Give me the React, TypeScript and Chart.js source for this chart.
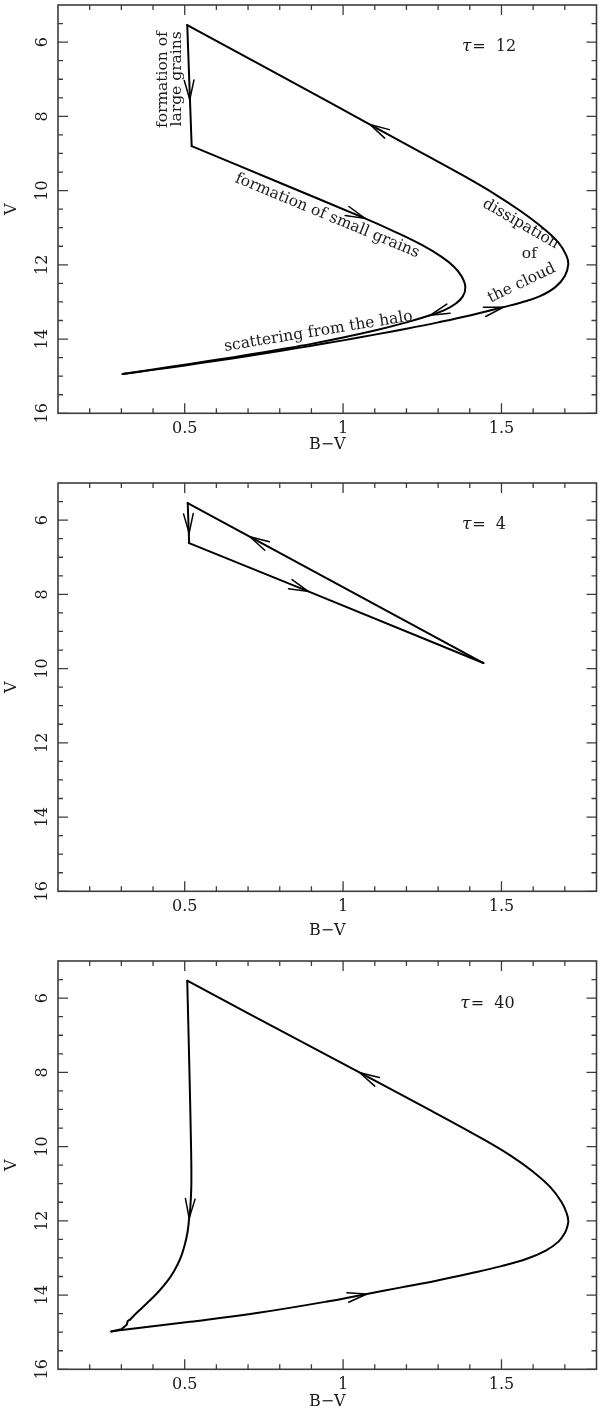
import React, { useEffect, useRef } from "react";
import { Chart, registerables } from "chart.js";

Chart.register(...registerables);

// ---------- axes ----------
const X_MIN = 0.1;
const X_MAX = 1.8;
const Y_MIN = 5;
const Y_MAX = 16;
const xMajorTicks = [0.5, 1, 1.5];
const xTickLabels = ["0.5", "1", "1.5"];
const xMinorTicks = [0.2, 0.3, 0.4, 0.6, 0.7, 0.8, 0.9, 1.1, 1.2, 1.3, 1.4, 1.6, 1.7];
const yMajorTicks = [6, 8, 10, 12, 14, 16];
const yTickLabels = ["6", "8", "10", "12", "14", "16"];
const yMinorTicks = [5.5, 6.5, 7, 7.5, 8.5, 9, 9.5, 10.5, 11, 11.5, 12.5, 13, 13.5, 14.5, 15, 15.5];
const xTitle = "B\u2212V";
const yTitle = "V";

// ---------- panel 1 : tau = 12 ----------
const p1VertX = [0.508, 0.522];
const p1VertY = [5.54, 8.8];
const p1InnerX = [0.522, 0.8, 1.069, 1.169, 1.25, 1.31, 1.35, 1.375, 1.386, 1.378, 1.355, 1.32, 1.275, 1.2, 1.1, 1.0, 0.9, 0.8, 0.7, 0.6, 0.5, 0.4, 0.304];
const p1InnerY = [8.8, 9.79, 10.75, 11.13, 11.47, 11.78, 12.05, 12.32, 12.6, 12.85, 13.05, 13.22, 13.36, 13.55, 13.77, 13.96, 14.13, 14.28, 14.425, 14.56, 14.69, 14.82, 14.94];
const p1OuterX = [0.304, 0.4, 0.5, 0.6, 0.7, 0.8, 0.9, 1.0, 1.1, 1.2, 1.3, 1.4, 1.506, 1.56, 1.62, 1.67, 1.7, 1.711, 1.705, 1.68, 1.63, 1.56, 1.48, 1.38, 1.25, 1.117, 0.959, 0.75, 0.508];
const p1OuterY = [14.94, 14.83, 14.71, 14.585, 14.455, 14.32, 14.18, 14.035, 13.88, 13.72, 13.55, 13.365, 13.14, 13.02, 12.85, 12.6, 12.3, 11.98, 11.75, 11.4, 11.0, 10.55, 10.1, 9.6, 8.99, 8.37, 7.63, 6.66, 5.54];
const p1ArrowTipX = [0.516, 1.069, 1.275, 1.506, 1.085];
const p1ArrowTipY = [7.55, 10.75, 13.36, 13.14, 8.22];
const p1ArrowTailX = [0.513, 0.9, 1.33, 1.4, 1.2];
const p1ArrowTailY = [6.8, 10.15, 13.19, 13.365, 8.76];
const p1Labels = ["formation of", "large grains", "formation of small grains", "scattering from the halo", "dissipation", "of", "the cloud"];
const p1LabelX = [0.432, 0.476, 0.95, 0.922, 1.561, 1.588, 1.564];
const p1LabelY = [7.01, 6.99, 10.68, 13.8, 10.9, 11.71, 12.5];
const p1LabelAngle = [-90, -90, 22.5, -9.3, 30, 0, -25.4];

// ---------- panel 2 : tau = 4 ----------
const p2VertX = [0.5095, 0.514];
const p2VertY = [5.54, 6.62];
const p2LowerX = [0.514, 0.89, 1.443];
const p2LowerY = [6.62, 7.92, 9.85];
const p2UpperX = [1.443, 0.5095];
const p2UpperY = [9.85, 5.54];
const p2ArrowTipX = [0.514, 0.89, 0.706];
const p2ArrowTipY = [6.35, 7.92, 6.45];
const p2ArrowTailX = [0.511, 0.75, 0.85];
const p2ArrowTailY = [5.7, 7.44, 7.11];

// ---------- panel 3 : tau = 40 ----------
const p3LeftX = [0.508, 0.515, 0.52, 0.521, 0.518, 0.514, 0.509, 0.5, 0.487, 0.468, 0.444, 0.415, 0.383, 0.352, 0.326];
const p3LeftY = [5.53, 8.0, 10.0, 11.0, 11.6, 11.93, 12.3, 12.65, 13.0, 13.33, 13.64, 13.93, 14.2, 14.45, 14.67];
const p3KinkX = [0.326, 0.32, 0.317, 0.3, 0.268];
const p3KinkY = [14.67, 14.7, 14.8, 14.92, 14.98];
const p3LoopX = [0.268, 0.295, 0.517, 0.738, 0.959, 1.075, 1.18, 1.291, 1.4, 1.5, 1.58, 1.64, 1.68, 1.7, 1.708, 1.711, 1.706, 1.69, 1.655, 1.6, 1.53, 1.442, 1.263, 1.053, 0.705, 0.508];
const p3LoopY = [14.98, 14.95, 14.72, 14.47, 14.16, 13.97, 13.8, 13.62, 13.42, 13.22, 13.02, 12.8, 12.56, 12.33, 12.15, 12.0, 11.8, 11.5, 11.1, 10.68, 10.25, 9.8, 8.965, 8.01, 6.43, 5.53];
const p3ArrowTipX = [0.514, 1.075, 1.053];
const p3ArrowTipY = [11.93, 13.97, 8.01];
const p3ArrowTailX = [0.519, 0.95, 1.17];
const p3ArrowTailY = [11.2, 14.17, 8.54];

// ---------- tau labels ----------
const tauValues = ["12", "4", "40"];
const tauX = [1.375, 1.375, 1.37];
const tauY = [6.12, 6.12, 6.15];

type Seg = { x: number[]; y: number[]; tension: number };
type Panel = {
  segs: Seg[];
  arrows: { tx: number[]; ty: number[]; fx: number[]; fy: number[] };
  labels: { text: string[]; x: number[]; y: number[]; angle: number[] };
  tau: string;
  tauX: number;
  tauY: number;
  xTitleOffset: number;
};

const panels: Panel[] = [
  {
    segs: [
      { x: p1VertX, y: p1VertY, tension: 0 },
      { x: p1InnerX, y: p1InnerY, tension: 0.4 },
      { x: p1OuterX, y: p1OuterY, tension: 0.4 },
    ],
    arrows: { tx: p1ArrowTipX, ty: p1ArrowTipY, fx: p1ArrowTailX, fy: p1ArrowTailY },
    labels: { text: p1Labels, x: p1LabelX, y: p1LabelY, angle: p1LabelAngle },
    tau: tauValues[0],
    tauX: tauX[0],
    tauY: tauY[0],
    xTitleOffset: 32,
  },
  {
    segs: [
      { x: p2VertX, y: p2VertY, tension: 0 },
      { x: p2LowerX, y: p2LowerY, tension: 0 },
      { x: p2UpperX, y: p2UpperY, tension: 0 },
    ],
    arrows: { tx: p2ArrowTipX, ty: p2ArrowTipY, fx: p2ArrowTailX, fy: p2ArrowTailY },
    labels: { text: [], x: [], y: [], angle: [] },
    tau: tauValues[1],
    tauX: tauX[1],
    tauY: tauY[1],
    xTitleOffset: 40,
  },
  {
    segs: [
      { x: p3LeftX, y: p3LeftY, tension: 0.4 },
      { x: p3KinkX, y: p3KinkY, tension: 0 },
      { x: p3LoopX, y: p3LoopY, tension: 0.4 },
    ],
    arrows: { tx: p3ArrowTipX, ty: p3ArrowTipY, fx: p3ArrowTailX, fy: p3ArrowTailY },
    labels: { text: [], x: [], y: [], angle: [] },
    tau: tauValues[2],
    tauX: tauX[2],
    tauY: tauY[2],
    xTitleOffset: 33,
  },
];

const SERIF = '"DejaVu Serif", "Liberation Serif", serif';
const MAJOR = 10;
const MINOR = 5;

const pgPlugin = {
  id: "pgframe",
  afterDatasetsDraw(chart: any, _args: any, opts: any) {
    const panel: Panel = opts.panel;
    const { ctx, chartArea: a } = chart;
    const xs = chart.scales.x;
    const ys = chart.scales.y;
    ctx.save();

    // frame
    ctx.strokeStyle = "#3c3c3c";
    ctx.lineWidth = 1.6;
    ctx.strokeRect(a.left, a.top, a.right - a.left, a.bottom - a.top);

    // ticks on four sides
    ctx.lineWidth = 1.3;
    ctx.beginPath();
    const xt = (v: number, len: number) => {
      const px = xs.getPixelForValue(v);
      ctx.moveTo(px, a.bottom);
      ctx.lineTo(px, a.bottom - len);
      ctx.moveTo(px, a.top);
      ctx.lineTo(px, a.top + len);
    };
    const yt = (v: number, len: number) => {
      const py = ys.getPixelForValue(v);
      ctx.moveTo(a.left, py);
      ctx.lineTo(a.left + len, py);
      ctx.moveTo(a.right, py);
      ctx.lineTo(a.right - len, py);
    };
    xMajorTicks.forEach((v) => xt(v, MAJOR));
    xMinorTicks.forEach((v) => xt(v, MINOR));
    yMajorTicks.forEach((v) => yt(v, MAJOR));
    yMinorTicks.forEach((v) => yt(v, MINOR));
    ctx.stroke();

    // tick labels
    ctx.fillStyle = "#1a1a1a";
    ctx.font = `16px ${SERIF}`;
    ctx.textAlign = "center";
    ctx.textBaseline = "middle";
    xMajorTicks.forEach((v, i) => {
      ctx.fillText(xTickLabels[i], xs.getPixelForValue(v), a.bottom + 16);
    });
    yMajorTicks.forEach((v, i) => {
      ctx.save();
      ctx.translate(a.left - 15, ys.getPixelForValue(v));
      ctx.rotate(-Math.PI / 2);
      ctx.fillText(yTickLabels[i], 0, 0);
      ctx.restore();
    });

    // axis titles
    ctx.fillText(xTitle, (a.left + a.right) / 2, a.bottom + panel.xTitleOffset);
    ctx.save();
    ctx.translate(12, (a.top + a.bottom) / 2);
    ctx.rotate(-Math.PI / 2);
    ctx.fillText(yTitle, 0, 0);
    ctx.restore();

    // tau label
    ctx.textAlign = "left";
    const tx = xs.getPixelForValue(panel.tauX);
    const ty = ys.getPixelForValue(panel.tauY);
    ctx.font = `italic 17px ${SERIF}`;
    ctx.fillText("\u03c4", tx, ty);
    const w = ctx.measureText("\u03c4").width;
    ctx.font = `16px ${SERIF}`;
    ctx.fillText("=  " + panel.tau, tx + w + 1, ty);

    // annotations
    ctx.textAlign = "center";
    ctx.font = `15.5px ${SERIF}`;
    panel.labels.text.forEach((t, i) => {
      ctx.save();
      ctx.translate(xs.getPixelForValue(panel.labels.x[i]), ys.getPixelForValue(panel.labels.y[i]));
      ctx.rotate((panel.labels.angle[i] * Math.PI) / 180);
      ctx.fillText(t, 0, 0);
      ctx.restore();
    });

    // arrow heads
    ctx.strokeStyle = "#000";
    ctx.lineWidth = 1.5;
    ctx.lineCap = "round";
    const L = 20;
    const half = (14 * Math.PI) / 180;
    panel.arrows.tx.forEach((_, i) => {
      const px = xs.getPixelForValue(panel.arrows.tx[i]);
      const py = ys.getPixelForValue(panel.arrows.ty[i]);
      const fx = xs.getPixelForValue(panel.arrows.fx[i]);
      const fy = ys.getPixelForValue(panel.arrows.fy[i]);
      const ang = Math.atan2(py - fy, px - fx);
      ctx.beginPath();
      ctx.moveTo(px - L * Math.cos(ang - half), py - L * Math.sin(ang - half));
      ctx.lineTo(px, py);
      ctx.lineTo(px - L * Math.cos(ang + half), py - L * Math.sin(ang + half));
      ctx.stroke();
    });

    ctx.restore();
  },
};

function PanelChart({ panel, top }: { panel: Panel; top: number }) {
  const ref = useRef<HTMLCanvasElement | null>(null);
  useEffect(() => {
    if (!ref.current) return;
    const chart = new Chart(ref.current, {
      type: "scatter",
      data: {
        datasets: panel.segs.map((s) => ({
          data: s.x.map((xv, i) => ({ x: xv, y: s.y[i] })),
          showLine: true,
          borderColor: "#000",
          borderWidth: 2,
          pointRadius: 0,
          pointHoverRadius: 0,
          tension: s.tension,
          fill: false,
          borderJoinStyle: "round",
          borderCapStyle: "round",
        })),
      },
      options: {
        animation: false,
        responsive: false,
        devicePixelRatio: 1,
        events: [],
        layout: { padding: { left: 58, right: 3.5, top: 5, bottom: 64.7 } },
        scales: {
          x: { type: "linear", min: X_MIN, max: X_MAX, display: false },
          y: { type: "linear", min: Y_MIN, max: Y_MAX, reverse: true, display: false },
        },
        plugins: {
          legend: { display: false },
          tooltip: { enabled: false },
          pgframe: { panel },
        } as any,
      },
      plugins: [pgPlugin as any],
    });
    return () => chart.destroy();
  }, [panel]);
  return (
    <canvas
      ref={ref}
      width={600}
      height={478}
      style={{ position: "absolute", left: 0, top, width: 600, height: 478, display: "block" }}
    />
  );
}

export default function App() {
  return (
    <div
      style={{
        position: "fixed",
        left: 0,
        top: 0,
        width: 600,
        height: 1417,
        overflow: "hidden",
        background: "#fff",
      }}
    >
      <PanelChart panel={panels[0]} top={0} />
      <PanelChart panel={panels[1]} top={478} />
      <PanelChart panel={panels[2]} top={956} />
    </div>
  );
}
